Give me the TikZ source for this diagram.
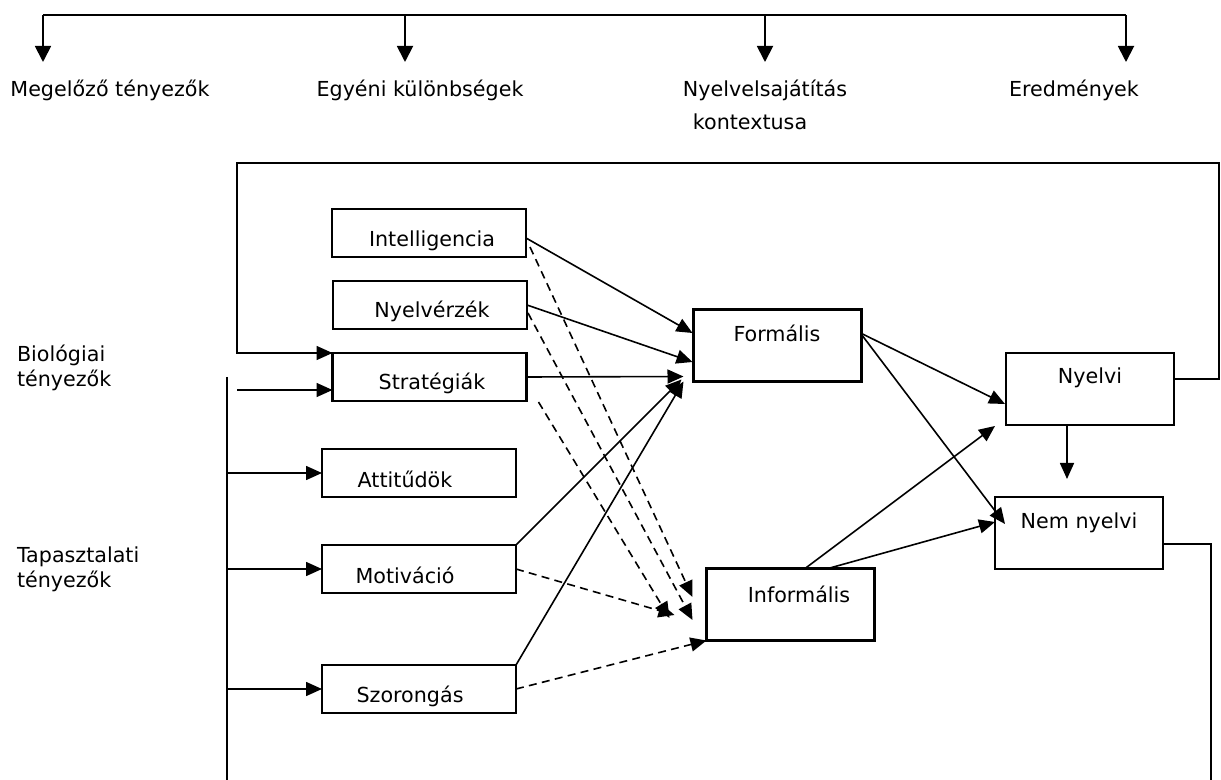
\documentclass[tikz,border=0pt]{standalone}
\usepackage{fontspec}
\setmainfont{DejaVu Sans}
\usetikzlibrary{arrows.meta,calc}
\begin{document}
\begin{tikzpicture}[x=0.75pt,y=-0.75pt,
  every node/.style={inner sep=0pt, outer sep=0pt},
  txt/.style={anchor=base, font=\fontsize{15.5}{18}\selectfont},
  ltxt/.style={anchor=base west, font=\fontsize{15.5}{18}\selectfont},
  sbox/.style={draw, line width=1.6pt, minimum width=145.5pt, minimum height=36pt},
  bbox/.style={draw, line width=1.6pt, minimum width=126pt, minimum height=54pt},
  tip/.style={-{Triangle[length=12pt,width=10.5pt]}},
  conn/.style={line width=1.2pt, tip},
  dconn/.style={conn, dash pattern=on 6pt off 4pt},
  plain/.style={line width=1.3pt},
  bar/.style={line width=1.6pt},
]
% canvas
\fill[white] (0,0) rectangle (1221,780);
\useasboundingbox (0,0) rectangle (1221,780);

% ---- top header with four branches ----
\coordinate (b1) at (43,15);
\coordinate (b2) at (405,15);
\coordinate (b3) at (765,15);
\coordinate (b4) at (1126,15);
\coordinate (d1) at (43,62);
\coordinate (d2) at (405,62);
\coordinate (d3) at (765,62);
\coordinate (d4) at (1126,62);
\draw[bar] (b1) -- (b4);
\foreach \i in {1,2,3,4}
  \draw[line width=1.4pt, -{Triangle[length=12pt,width=12pt]}] (b\i) -- (d\i);

\node[txt] (tMeg)  at (110,97)  {Megelőző tényezők};
\node[txt] (tEgy)  at (420,97)  {Egyéni különbségek};
\node[txt] (tNy1)  at (765,97)  {Nyelvelsajátítás};
\node[txt] (tNy2)  at (750,130) {kontextusa};
\node[txt] (tEred) at (1074,97) {Eredmények};

% ---- side labels ----
\node[ltxt] (tBio1) at (17,362) {Biológiai};
\node[ltxt] (tBio2) at (17,387) {tényezők};
\node[ltxt] (tTap1) at (17,562) {Tapasztalati};
\node[ltxt] (tTap2) at (17,587) {tényezők};

% ---- individual difference boxes ----
\node[sbox] (intel) at (429,233)   {};
\node[sbox] (nyerz) at (430,305)   {};
\node[sbox] (strat) at (429.5,377) {};
\node[sbox] (att)   at (419,473)   {};
\node[sbox] (motiv) at (419,569)   {};
\node[sbox] (szor)  at (419,689)   {};
\node[txt] (intelT) at (432,247) {Intelligencia};
\node[txt] (nyerzT) at (432,318) {Nyelvérzék};
\node[txt] (stratT) at (432,390) {Stratégiák};
\node[txt] (attT)   at (405,487) {Attitűdök};
\node[txt] (motivT) at (405,583) {Motiváció};
\node[txt] (szorT)  at (410,702) {Szorongás};

% ---- context and outcome boxes ----
\node[bbox] (form)  at (777.5,345.5) {};
\node[bbox] (inf)   at (790.5,604.5) {};
\node[bbox] (nyel)  at (1090,389)    {};
\node[bbox] (nem)   at (1079,533)    {};
\node[txt] (formT) at (777,342)  {Formális};
\node[txt] (infT)  at (799,602)  {Informális};
\node[txt] (nyelT) at (1090,384) {Nyelvi};
\node[txt] (nemT)  at (1079,528) {Nem nyelvi};

% ---- left bracket feeding the boxes ----
\coordinate (brTop) at (227,377);
\coordinate (brBot) at (227,780);
\coordinate (stratIn) at (237,390);
\draw[plain] (brTop) -- (brBot);
\draw[conn] (stratIn) -- ($(strat.west)+(0,13)$);
\draw[conn] (att.west -| brTop) -- (att.west);
\draw[conn] (motiv.west -| brTop) -- (motiv.west);
\draw[conn] (szor.west -| brTop) -- (szor.west);

% ---- solid paths to the formal context ----
\draw[conn] ($(intel.east)+(0,5)$) -- ($(form.west)+(-1,-12.5)$);
\draw[conn] (nyerz.east) -- ($(form.west)+(-1,16.5)$);
\draw[conn] (strat.east) -- ($(form.south west)+(-10,-5)$);
\draw[conn] (motiv.north east) -- ($(form.south west)+(-12,-2)$);
\draw[conn] (szor.north east) -- ($(form.south west)+(-10,0)$);

% ---- dashed paths to the informal context ----
\draw[dconn] ($(intel.south east)+(4,-10)$) -- ($(inf.west)+(-14,-7.5)$);
\draw[dconn] ($(nyerz.east)+(1,8)$) -- ($(inf.west)+(-14,15.5)$);
\draw[dconn] ($(strat.south east)+(12,1)$) -- ($(inf.west)+(-37,13.5)$);
\draw[dconn] (motiv.east) -- ($(inf.west)+(-32,10.5)$);
\draw[dconn] (szor.east) -- (inf.south west);

% ---- contexts to outcomes ----
\draw[conn] ($(form.east)+(0,-12)$) -- ($(nyel.west)+(-1,15)$);
\draw[conn] ($(form.east)+(0,-11)$) -- ($(nem.west)+(10,-9)$);
\draw[conn] ($(inf.north)+(14.5,0)$) -- ($(nyel.south west)+(-11,1)$);
\draw[conn] ($(inf.north)+(37.5,0)$) -- ($(nem.west)+(0,-11)$);
\draw[conn] ($(nyel.south)+(-23,0)$) -- ($(nem.north)+(-12,-18)$);

% ---- feedback loop and exit line ----
\coordinate (fbR) at (1219,163);
\coordinate (fbL) at (237,163);
\coordinate (nnEnd) at (1211,780);
\draw[plain] ($(nyel.east)+(0,-10)$) -| (fbR) -- (fbL) |- (strat.north west);
\draw[conn] (237,353) -- (strat.north west);
\draw[plain] ($(nem.east)+(0,11)$) -| (nnEnd);
\end{tikzpicture}
\end{document}
